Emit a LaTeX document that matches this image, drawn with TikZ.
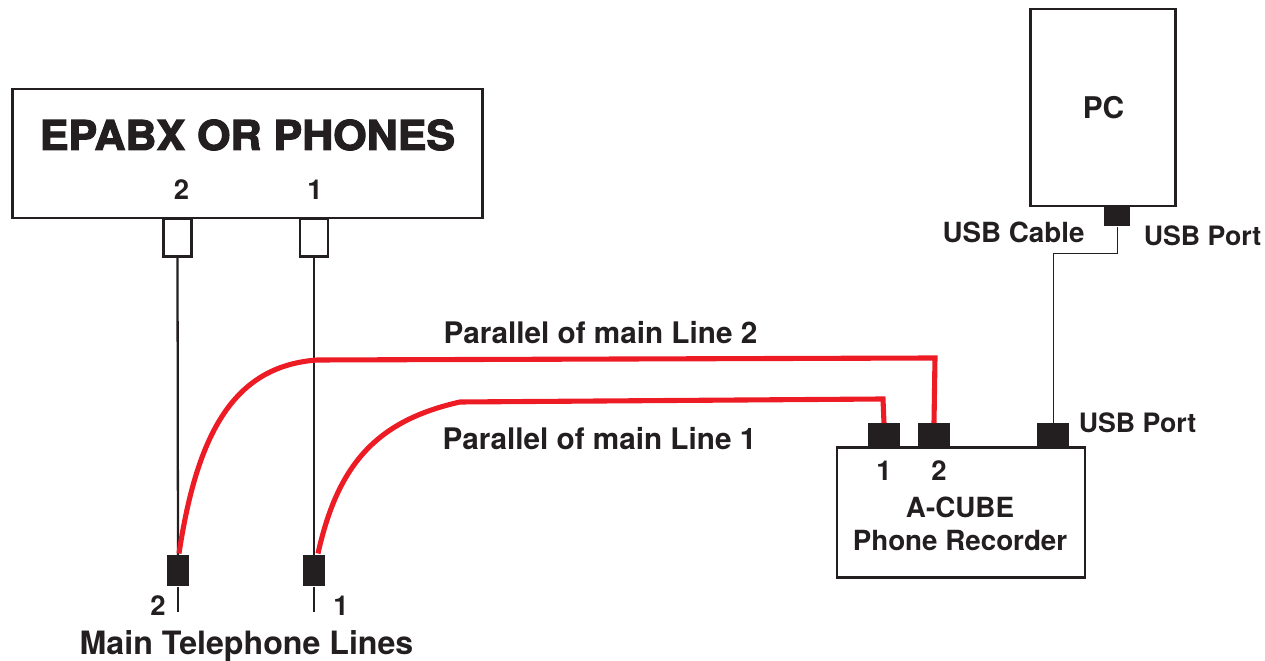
\documentclass[tikz,border=0pt]{standalone}
\usepackage{fontspec}
\setmainfont{TeX Gyre Heros}
\newfontface\heavyfont{TeX Gyre Heros Bold}[FakeBold=2.8,FakeStretch=1.05]
\definecolor{redl}{RGB}{237,28,36}
\definecolor{blk}{RGB}{35,31,32}
\newcommand{\fs}[1]{\bfseries\fontsize{#1pt}{#1pt}\selectfont}
\tikzset{
 box/.style={draw=blk,line width=1.4pt,fill=white,inner sep=0pt},
 jack/.style={fill=blk,draw=none,inner sep=0pt},
 wire/.style={draw=blk,line width=1.3pt},
 thin wire/.style={draw=blk,line width=0.5pt},
 red wire/.style={draw=redl,line width=2.9pt},
 lab/.style={font=\fs{15.6},text=blk,inner sep=0pt,align=center,anchor=center},
}
\begin{document}
\begin{tikzpicture}[x=1cm,y=1cm]
\useasboundingbox (0,0) rectangle (25.3,13.22);
% boxes
\node[box,minimum width=9.4cm,minimum height=2.58cm] (epabx) at (4.95,10.15) {};
\node[box,minimum width=2.9cm,minimum height=3.94cm] (pc) at (22.06,11.07) {};
\node[box,minimum width=4.96cm,minimum height=2.6cm] (rec) at (19.22,2.97) {};
% sockets
\node[box,line width=1.2pt,minimum width=0.56cm,minimum height=0.76cm] (s2) at (3.55,8.47) {};
\node[box,line width=1.2pt,minimum width=0.56cm,minimum height=0.76cm] (s1) at (6.28,8.47) {};
% jacks
\node[jack,minimum width=0.44cm,minimum height=0.62cm] (j2) at (3.56,1.8) {};
\node[jack,minimum width=0.44cm,minimum height=0.62cm] (j1) at (6.28,1.8) {};
\node[jack,minimum width=0.64cm,minimum height=0.46cm] (p1) at (17.68,4.52) {};
\node[jack,minimum width=0.64cm,minimum height=0.46cm] (p2) at (18.68,4.52) {};
\node[jack,minimum width=0.64cm,minimum height=0.46cm] (pu) at (21.06,4.52) {};
\node[jack,minimum width=0.52cm,minimum height=0.42cm] (pp) at (22.34,8.9) {};
% coordinates
\coordinate (e2) at (3.56,0.98);
\coordinate (e1) at (6.28,0.98);
\coordinate (b1) at (22.34,8.16);
\coordinate (b2) at (21.06,8.16);
% wires
\draw[wire] (s2.south) -- (j2.north);
\draw[wire] (s1.south) -- (j1.north);
\draw[wire] (j2.south) -- (e2);
\draw[wire] (j1.south) -- (e1);
\draw[thin wire] (pp.south) -- (b1) -- (b2) -- (pu.north);
% red
\coordinate (r2a) at (3.58,2.15);
\coordinate (r2b) at (6.34,6.02);
\coordinate (r2c) at (18.7,6.06);
\draw[red wire,line join=miter] (r2a) .. controls (3.95,4.6) and (4.7,5.9) .. (r2b) -- (r2c) -- (p2.north);
\coordinate (r1a) at (6.36,2.15);
\coordinate (r1b) at (9.2,5.18);
\coordinate (r1c) at (17.66,5.24);
\draw[red wire,line join=miter] (r1a) .. controls (6.75,3.9) and (7.5,4.8) .. (r1b) -- (r1c) -- (p1.north);
% labels
\node[lab,font={\heavyfont\fontsize{23.3pt}{26pt}\selectfont}] (t0) at (4.95,10.52) {EPABX OR PHONES};
\node[lab] (t1) at (3.63,9.43) {2};
\node[lab] (t2) at (6.3,9.43) {1};
\node[lab,font=\fs{17}] (t3) at (22.07,11.07) {PC};
\node[lab,font=\fs{15.8}] (t4) at (20.27,8.58) {USB Cable};
\node[lab,font=\fs{15.2}] (t5) at (24.05,8.5) {USB Port};
\node[lab,font=\fs{16.9}] (t6) at (12.01,6.56) {Parallel of main Line 2};
\node[lab,font=\fs{16.9}] (t7) at (11.99,4.44) {Parallel of main Line 1};
\node[lab,font=\fs{15.2}] (t8) at (22.75,4.76) {USB Port};
\node[lab] (t9) at (17.68,3.8) {1};
\node[lab] (t10) at (18.78,3.8) {2};
\node[lab,font={\bfseries\fontsize{15.8pt}{18.7pt}\selectfont}] (t11) at (19.2,2.75) {A-CUBE\\Phone Recorder};
\node[lab] (t12) at (3.16,1.1) {2};
\node[lab] (t13) at (6.82,1.1) {1};
\node[lab,font=\fs{18.3}] (t14) at (4.93,0.3) {Main Telephone Lines};
\end{tikzpicture}
\end{document}
